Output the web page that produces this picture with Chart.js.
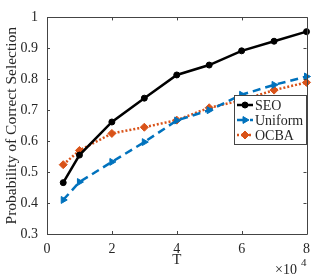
<!DOCTYPE html>
<html>
<head>
<meta charset="utf-8">
<script src="https://cdn.jsdelivr.net/npm/chart.js@4/dist/chart.umd.min.js"></script>
<style>
html,body{margin:0;padding:0;background:#fff;}
#wrap{width:317px;height:275px;position:relative;}
</style>
</head>
<body>
<div id="wrap"><canvas id="c" width="317" height="275"></canvas></div>
<script>
// Data
const tValues = [5000, 10000, 20000, 30000, 40000, 50000, 60000, 70000, 80000];
const seoValues = [0.466, 0.555, 0.662, 0.739, 0.814, 0.846, 0.892, 0.923, 0.954];
const uniformValues = [0.410, 0.468, 0.533, 0.597, 0.667, 0.700, 0.750, 0.782, 0.809];
const ocbaValues = [0.524, 0.570, 0.625, 0.645, 0.668, 0.708, 0.732, 0.765, 0.790];
const xTickValues = [0, 20000, 40000, 60000, 80000];
const yTickValues = [0.3, 0.4, 0.5, 0.6, 0.7, 0.8, 0.9, 1.0];
const seriesNames = ['SEO', 'Uniform', 'OCBA'];

const FONT = '"Liberation Serif", "Times New Roman", serif';
const TXT = '#262626';

function pts(vals){ return tValues.map((t,i)=>({x:t, y:vals[i]})); }

const boxPlugin = {
  id: 'boxPlugin',
  afterDatasetsDraw(chart){
    const ctx = chart.ctx;
    const a = chart.chartArea;
    const xs = chart.scales.x, ys = chart.scales.y;
    ctx.save();
    ctx.strokeStyle = '#444';
    ctx.lineWidth = 1;
    ctx.beginPath();
    ctx.rect(Math.round(a.left)+0.5, Math.round(a.top)+0.5, Math.round(a.right-a.left), Math.round(a.bottom-a.top));
    ctx.stroke();
    const tl = 3;
    ctx.beginPath();
    xTickValues.forEach(v=>{
      const px = Math.round(xs.getPixelForValue(v))+0.5;
      ctx.moveTo(px, a.bottom); ctx.lineTo(px, a.bottom-tl);
      ctx.moveTo(px, a.top); ctx.lineTo(px, a.top+tl);
    });
    yTickValues.forEach(v=>{
      const py = Math.round(ys.getPixelForValue(v))+0.5;
      ctx.moveTo(a.left, py); ctx.lineTo(a.left+tl, py);
      ctx.moveTo(a.right, py); ctx.lineTo(a.right-tl, py);
    });
    ctx.stroke();

    // x10^4 exponent label
    ctx.fillStyle = TXT;
    ctx.textBaseline = 'middle';
    ctx.textAlign = 'left';
    ctx.font = '14px ' + FONT;
    ctx.fillText('\u00d710', 275, 270);
    ctx.font = '11px ' + FONT;
    ctx.fillText('4', 301, 263);

    // Legend
    const lx = 234, ly = 95, lw = 72, lh = 49;
    ctx.fillStyle = '#fff';
    ctx.fillRect(lx, ly, lw, lh);
    ctx.strokeStyle = '#444';
    ctx.lineWidth = 1;
    ctx.strokeRect(lx+0.5, ly+0.5, lw, lh);
    chart.data.datasets.forEach((ds, i)=>{
      const cy = ly + 10 + i*15;
      ctx.save();
      ctx.strokeStyle = ds.borderColor;
      ctx.lineWidth = ds.borderWidth;
      ctx.setLineDash(ds.borderDash || []);
      ctx.beginPath();
      ctx.moveTo(lx+3, cy); ctx.lineTo(lx+19, cy);
      ctx.stroke();
      ctx.setLineDash([]);
      ctx.fillStyle = ds.backgroundColor;
      ctx.strokeStyle = ds.borderColor;
      ctx.lineWidth = 1;
      Chart.helpers.drawPoint(ctx, {
        pointStyle: ds.pointStyle, radius: ds.pointRadius, rotation: ds.pointRotation || 0, borderWidth: 1
      }, lx+11, cy);
      ctx.restore();
      ctx.fillStyle = TXT;
      ctx.font = '14px ' + FONT;
      ctx.textAlign = 'left';
      ctx.textBaseline = 'middle';
      ctx.fillText(ds.label, lx+21, cy+1);
    });
    ctx.restore();
  }
};

new Chart(document.getElementById('c'), {
  type: 'scatter',
  data: {
    datasets: [
      {
        label: seriesNames[0], data: pts(seoValues), showLine: true,
        borderColor: '#000000', backgroundColor: '#000000', borderWidth: 2.5,
        pointStyle: 'circle', pointRadius: 3, pointBorderWidth: 1, clip: false
      },
      {
        label: seriesNames[1], data: pts(uniformValues), showLine: true,
        borderColor: '#0072BD', backgroundColor: '#0072BD', borderWidth: 2.5, borderDash: [8,5],
        pointStyle: 'triangle', pointRotation: 90, pointRadius: 4, pointBorderWidth: 1, clip: false
      },
      {
        label: seriesNames[2], data: pts(ocbaValues), showLine: true,
        borderColor: '#D95319', backgroundColor: '#D95319', borderWidth: 2.5, borderDash: [2,2],
        pointStyle: 'rectRot', pointRadius: 4, pointBorderWidth: 1, clip: false
      }
    ]
  },
  options: {
    responsive: false,
    animation: false,
    events: [],
    layout: { padding: { top: 6, right: 7, left: 0, bottom: 0 } },
    plugins: { legend: { display: false }, tooltip: { enabled: false } },
    scales: {
      x: {
        type: 'linear', min: 0, max: 80000,
        afterFit(s){ s.height = 41; },
        afterBuildTicks(s){ s.ticks = xTickValues.map(v=>({value:v})); },
        grid: { display: false, drawTicks: false },
        border: { display: false },
        ticks: { color: TXT, font: { family: FONT, size: 14 }, padding: 7, maxRotation: 0,
          callback: v => String(Math.round(v/10000)) },
        title: { display: true, text: 'T', color: TXT, font: { family: FONT, size: 15 }, padding: { top: 0, bottom: 6 } }
      },
      y: {
        type: 'linear', min: 0.3, max: 1,
        afterFit(s){ s.width = 47; },
        afterBuildTicks(s){ s.ticks = yTickValues.map(v=>({value:v})); },
        grid: { display: false, drawTicks: false },
        border: { display: false },
        ticks: { color: TXT, font: { family: FONT, size: 14 }, padding: 9,
          callback: v => String(Math.round(v*10)/10) },
        title: { display: true, text: 'Probability of Correct Selection', color: TXT, font: { family: FONT, size: 15.5 }, padding: { top: 3, bottom: 0 } }
      }
    }
  },
  plugins: [boxPlugin]
});
</script>
</body>
</html>
